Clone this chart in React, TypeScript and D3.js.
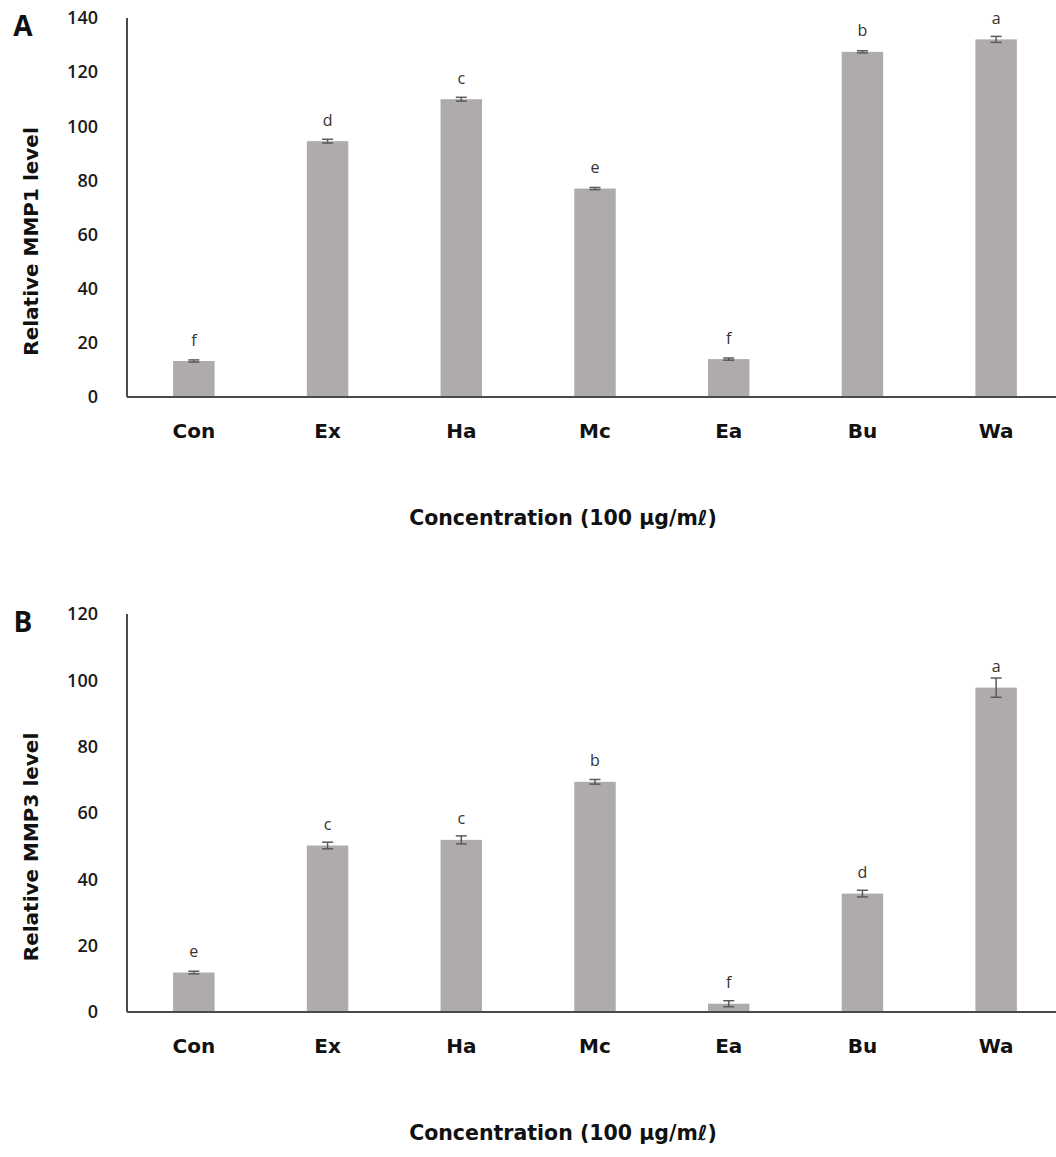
import React from "react";
import { scaleBand, scaleLinear } from "d3";

// Treatment groups shared by both panels
const categories = ["Con", "Ex", "Ha", "Mc", "Ea", "Bu", "Wa"];

// Panel A: relative MMP1 level
const mmp1Values = [13.3, 94.5, 110.0, 77.0, 14.0, 127.5, 132.1];
const mmp1Errors = [0.4, 0.7, 0.7, 0.4, 0.4, 0.4, 1.1];
const mmp1Letters = ["f", "d", "c", "e", "f", "b", "a"];
const mmp1Ticks = [0, 20, 40, 60, 80, 100, 120, 140];

// Panel B: relative MMP3 level
const mmp3Values = [11.9, 50.2, 51.9, 69.4, 2.5, 35.7, 97.8];
const mmp3Errors = [0.4, 1.0, 1.2, 0.7, 0.9, 1.0, 2.9];
const mmp3Letters = ["e", "c", "c", "b", "f", "d", "a"];
const mmp3Ticks = [0, 20, 40, 60, 80, 100, 120];

const xTitle = "Concentration (100 μg/mℓ)";

const W = 1056;
const H = 1157;
const axisLeft = 127;
const axisRight = 1063;
const barColor = "#afabaa";
const axisColor = "#4a4a4a";

type PanelProps = {
  tag: string;
  yTitle: string;
  values: number[];
  errors: number[];
  letters: string[];
  ticks: number[];
  top: number;
  bottom: number;
};

function Panel({ tag, yTitle, values, errors, letters, ticks, top, bottom }: PanelProps) {
  const x = scaleBand<string>()
    .domain(categories)
    .range([axisLeft, axisRight])
    .paddingInner(0.69)
    .paddingOuter(0.345);
  const y = scaleLinear()
    .domain([0, ticks[ticks.length - 1]])
    .range([bottom, top]);

  const bw = x.bandwidth();
  const mid = (top + bottom) / 2;

  return (
    <g>
      {/* panel tag */}
      <text
        x={23}
        y={top + 18}
        textAnchor="middle"
        fontFamily="'Open Sans', sans-serif"
        fontWeight={700}
        fontSize={28}
        fill="#111"
      >
        {tag}
      </text>

      {/* y tick labels */}
      {ticks.map((t) => (
        <text
          key={t}
          x={98}
          y={y(t)}
          dy="0.35em"
          textAnchor="end"
          fontFamily="'Open Sans', sans-serif"
          fontWeight={600}
          fontSize={18}
          fill="#1a1a1a"
        >
          {t}
        </text>
      ))}

      {/* y title */}
      <text
        transform={`translate(${31},${mid + 34}) rotate(-90)`}
        textAnchor="middle"
        dy="0.35em"
        fontFamily="'DejaVu Sans', sans-serif"
        fontWeight={700}
        fontSize={20}
        fill="#111"
      >
        {yTitle}
      </text>

      {/* bars */}
      {categories.map((c, i) => (
        <rect
          key={c}
          x={x(c)!}
          y={y(values[i])}
          width={bw}
          height={bottom - y(values[i])}
          fill={barColor}
        />
      ))}

      {/* error bars */}
      {categories.map((c, i) => {
        const cx = x(c)! + bw / 2;
        const y1 = y(values[i] + errors[i]);
        const y2 = y(values[i] - errors[i]);
        return (
          <g key={c} stroke="#5a5a5a" strokeWidth={1.5}>
            <line x1={cx} x2={cx} y1={y1} y2={y2} />
            <line x1={cx - 5.5} x2={cx + 5.5} y1={y1} y2={y1} />
            <line x1={cx - 5.5} x2={cx + 5.5} y1={y2} y2={y2} />
          </g>
        );
      })}

      {/* significance letters */}
      {categories.map((c, i) => (
        <text
          key={c}
          x={x(c)! + bw / 2}
          y={y(values[i]) - 21}
          dy="0.35em"
          textAnchor="middle"
          fontFamily="'Open Sans', sans-serif"
          fontSize={16}
          fill="#333"
        >
          {letters[i]}
        </text>
      ))}

      {/* axes */}
      <line x1={axisLeft} x2={axisLeft} y1={top} y2={bottom} stroke={axisColor} strokeWidth={2} />
      <line x1={axisLeft} x2={axisRight} y1={bottom} y2={bottom} stroke={axisColor} strokeWidth={2} />

      {/* category labels */}
      {categories.map((c) => (
        <text
          key={c}
          x={x(c)! + bw / 2}
          y={bottom + 34}
          dy="0.35em"
          textAnchor="middle"
          fontFamily="'DejaVu Sans', sans-serif"
          fontWeight={700}
          fontSize={20}
          fill="#111"
        >
          {c}
        </text>
      ))}

      {/* x title */}
      <text
        x={563}
        y={bottom + 121}
        dy="0.35em"
        textAnchor="middle"
        fontFamily="'DejaVu Sans', sans-serif"
        fontWeight={700}
        fontSize={20.5}
        fill="#111"
      >
        {xTitle}
      </text>
    </g>
  );
}

export default function App() {
  return (
    <svg
      width={W}
      height={H}
      style={{ position: "absolute", left: 0, top: 0, background: "#fff" }}
    >
      <rect width={W} height={H} fill="#fff" />
      <Panel
        tag="A"
        yTitle="Relative MMP1 level"
        values={mmp1Values}
        errors={mmp1Errors}
        letters={mmp1Letters}
        ticks={mmp1Ticks}
        top={18}
        bottom={397}
      />
      <Panel
        tag="B"
        yTitle="Relative MMP3 level"
        values={mmp3Values}
        errors={mmp3Errors}
        letters={mmp3Letters}
        ticks={mmp3Ticks}
        top={614}
        bottom={1012}
      />
    </svg>
  );
}
